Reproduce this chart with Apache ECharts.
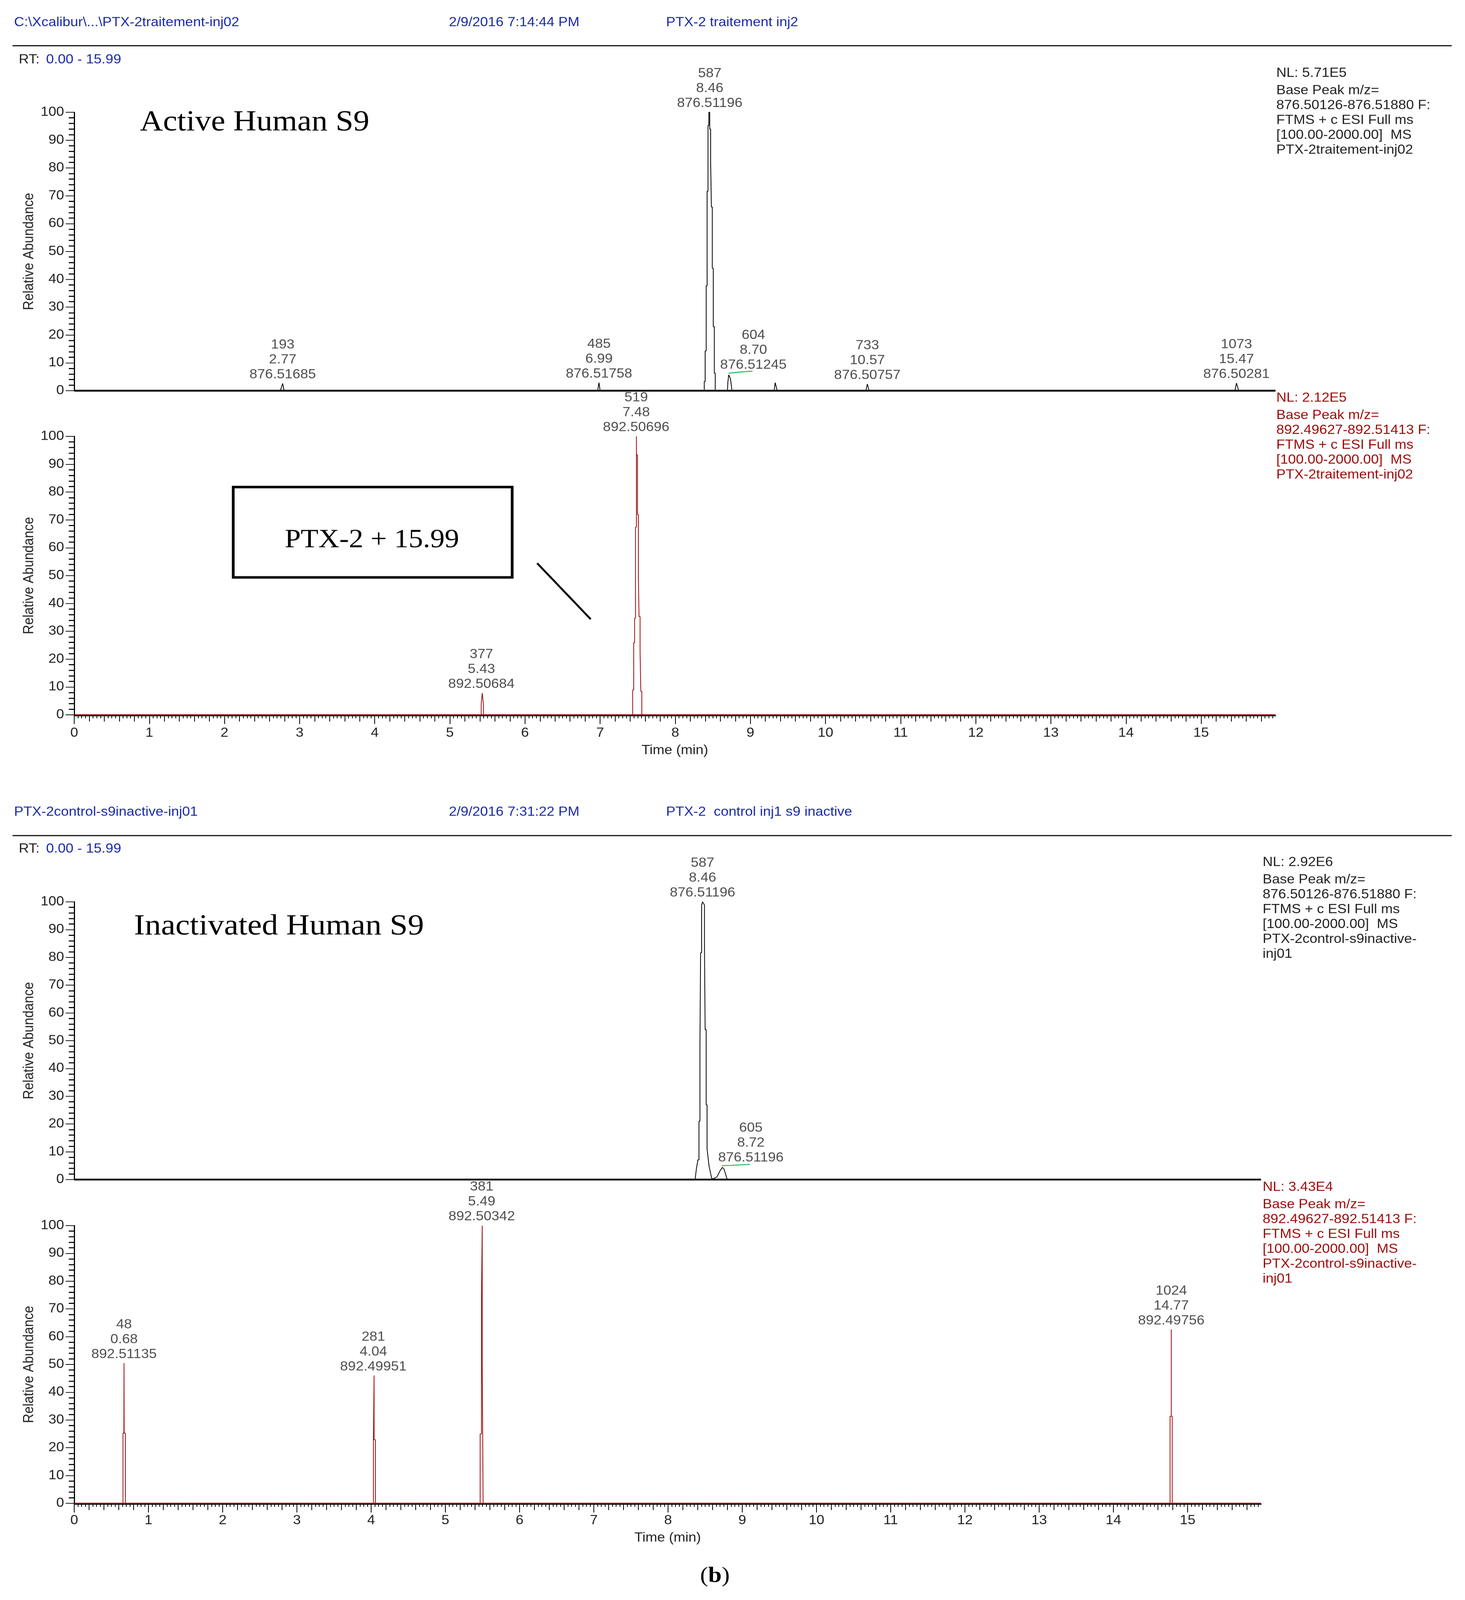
<!DOCTYPE html>
<html>
<head>
<meta charset="utf-8">
<style>html,body{margin:0;padding:0;background:#fff;overflow:hidden}#chart{width:3750px;height:4517px;transform-origin:0 0}</style>
<script src="https://cdn.jsdelivr.net/npm/echarts@6/dist/echarts.min.js"></script>
</head>
<body>
<div id="chart"></div>
<script>
// values
const timeRange = [0, 15.99];
const timeTicks = [0, 1, 2, 3, 4, 5, 6, 7, 8, 9, 10, 11, 12, 13, 14, 15];

// active S9, m/z 876.5
const activeTimes876 = [0, 2.743, 2.775, 2.793, 6.967, 6.985, 7.0, 8.386, 8.386, 8.398, 8.398, 8.412, 8.412, 8.424, 8.424, 8.436, 8.436, 8.447, 8.447, 8.459, 8.459, 8.471, 8.471, 8.481, 8.481, 8.493, 8.493, 8.506, 8.506, 8.52, 8.52, 8.532, 8.532, 8.695, 8.7, 8.712, 8.735, 8.755, 9.316, 9.33, 9.357, 10.537, 10.557, 10.58, 15.45, 15.47, 15.5, 15.99];
const activeValues876 = [0, 0, 2.6, 0, 0, 2.9, 0, 0, 3.3, 3.3, 14.3, 14.3, 37.7, 37.7, 71.7, 71.7, 95.3, 95.3, 100, 100, 94, 94, 82.3, 82.3, 66, 66, 44, 44, 23, 23, 6.3, 6.3, 0, 0, 3, 5.7, 4.3, 0, 0, 2.9, 0, 0, 2.4, 0, 0, 2.75, 0, 0];
const activeScans876 = ['193', '485', '587', '604', '733', '1073'];
const activeRts876 = ['2.77', '6.99', '8.46', '8.70', '10.57', '15.47'];
const activeMzs876 = ['876.51685', '876.51758', '876.51196', '876.51245', '876.50757', '876.50281'];
const activeLabelTimes876 = [2.775, 6.985, 8.459, 9.04, 10.557, 15.47];
const activeLabelValues876 = [2.6, 2.9, 100, 6, 2.4, 2.75];
const activeLeaderTimes876 = [8.71, 8.79, 8.87, 8.96, 9.03];
const activeLeaderValues876 = [6.3, 6.5, 6.7, 6.9, 7];

// active S9, m/z 892.5
const activeTimes892 = [0, 5.417, 5.417, 5.431, 5.447, 5.447, 7.433, 7.433, 7.447, 7.447, 7.459, 7.459, 7.471, 7.471, 7.483, 7.483, 7.483, 7.497, 7.497, 7.509, 7.509, 7.518, 7.518, 7.532, 7.532, 7.542, 7.542, 7.555, 7.555, 15.99];
const activeValues892 = [0, 0, 3.9, 7.8, 3.6, 0, 0, 8.9, 8.9, 25.9, 25.9, 34.7, 34.7, 67.4, 67.4, 100, 93.4, 93.4, 71.9, 71.9, 49.4, 49.4, 35.3, 35.3, 22.6, 22.6, 8.4, 8.4, 0, 0];
const activeScans892 = ['377', '519'];
const activeRts892 = ['5.43', '7.48'];
const activeMzs892 = ['892.50684', '892.50696'];
const activeLabelTimes892 = [5.42, 7.48];
const activeLabelValues892 = [7.8, 100];

// inactivated S9, m/z 876.5
const inactiveTimes876 = [0, 8.365, 8.382, 8.403, 8.417, 8.417, 8.43, 8.43, 8.439, 8.439, 8.453, 8.453, 8.465, 8.477, 8.491, 8.491, 8.5, 8.5, 8.514, 8.514, 8.526, 8.526, 8.535, 8.553, 8.588, 8.605, 8.623, 8.658, 8.702, 8.733, 8.754, 8.798, 15.99];
const inactiveValues876 = [0, 0, 3.8, 7.1, 7.1, 21, 21, 48.4, 48.4, 81.7, 81.7, 98.8, 100, 99.5, 98.8, 84.4, 84.4, 54, 54, 26.9, 26.9, 11.1, 11.1, 4.8, 0.5, 0.2, 0.5, 0.9, 3.2, 4.4, 3.8, 0, 0];
const inactiveScans876 = ['587', '605'];
const inactiveRts876 = ['8.46', '8.72'];
const inactiveMzs876 = ['876.51196', '876.51196'];
const inactiveLabelTimes876 = [8.465, 9.116];
const inactiveLabelValues876 = [100, 4.7];
const inactiveLeaderTimes876 = [8.726, 8.85, 8.98, 9.105];
const inactiveLeaderValues876 = [5, 5.1, 5.3, 5.5];

// inactivated S9, m/z 892.5
const inactiveTimes892 = [0, 0.657, 0.657, 0.669, 0.671, 0.673, 0.689, 0.689, 4.031, 4.031, 4.04, 4.04, 4.04, 4.058, 4.058, 5.469, 5.469, 5.487, 5.487, 5.497, 5.497, 5.497, 5.503, 5.503, 5.509, 5.509, 14.764, 14.764, 14.78, 14.78, 14.78, 14.793, 14.793, 15.99];
const inactiveValues892 = [0, 0, 25.3, 25.3, 50.5, 25.3, 25.3, 0, 0, 22.9, 22.9, 46, 22.9, 22.9, 0, 0, 25, 25, 75, 75, 100, 50, 50, 25, 25, 0, 0, 31.3, 31.3, 62.6, 31.3, 31.3, 0, 0];
const inactiveScans892 = ['48', '281', '381', '1024'];
const inactiveRts892 = ['0.68', '4.04', '5.49', '14.77'];
const inactiveMzs892 = ['892.51135', '892.49951', '892.50342', '892.49756'];
const inactiveLabelTimes892 = [0.671, 4.03, 5.49, 14.78];
const inactiveLabelValues892 = [50.5, 46, 100, 62.6];

const BLACK = '#000';
const RED = '#9e0b0b';
const GREEN = '#14b14a';
const BLUE = '#1a2aa8';
const TEXT = '#222';
const SANS = '"Liberation Sans", Arial, sans-serif';
const SERIF = '"Liberation Serif", serif';

const zip = function (a, b) {
    return a.map((v, i) => [v, b[i]]);
};

// medium and minor ticks are only a ruling, no data in them
const stepped = function (count, step) {
    let out = [];
    for (let i = 0; i < count; i++) {
        let v = Math.round(i * step * 100) / 100;
        if (v <= timeRange[1]) out.push(v);
    }
    return out;
};
const mediumTicks = stepped(80, 0.2);
const minorTicks = stepped(320, 0.05);

const panels = [
    {left: 190, top: 317, width: 3075, height: 786, color: BLACK, ruled: false,
        times: activeTimes876, values: activeValues876, scans: activeScans876, rts: activeRts876, mzs: activeMzs876,
        labelTimes: activeLabelTimes876, labelValues: activeLabelValues876,
        leaderTimes: activeLeaderTimes876, leaderValues: activeLeaderValues876},
    {left: 190, top: 1232, width: 3075, height: 786, color: RED, ruled: true, nameGap: 81, labelMargin: 32,
        times: activeTimes892, values: activeValues892, scans: activeScans892, rts: activeRts892, mzs: activeMzs892,
        labelTimes: activeLabelTimes892, labelValues: activeLabelValues892},
    {left: 190, top: 2546, width: 3038, height: 784, color: BLACK, ruled: false,
        times: inactiveTimes876, values: inactiveValues876, scans: inactiveScans876, rts: inactiveRts876, mzs: inactiveMzs876,
        labelTimes: inactiveLabelTimes876, labelValues: inactiveLabelValues876,
        leaderTimes: inactiveLeaderTimes876, leaderValues: inactiveLeaderValues876},
    {left: 190, top: 3460, width: 3038, height: 784, color: RED, ruled: true, nameGap: 78, labelMargin: 29,
        times: inactiveTimes892, values: inactiveValues892, scans: inactiveScans892, rts: inactiveRts892, mzs: inactiveMzs892,
        labelTimes: inactiveLabelTimes892, labelValues: inactiveLabelValues892}
];

let grid = [];
let xAxis = [];
let yAxis = [];
let series = [];

const tickAxis = function (gridIndex, values, length, extra) {
    return Object.assign({
        type: 'value', gridIndex, position: 'bottom', offset: 2,
        min: timeRange[0], max: timeRange[1], splitLine: {show: false},
        axisLine: {show: false, onZero: false},
        axisLabel: {show: false},
        axisTick: {show: true, customValues: values, length, lineStyle: {color: BLACK, width: 2}}
    }, extra || {});
};

panels.forEach(function (p, i) {
    grid.push({left: p.left, top: p.top, width: p.width, height: p.height, containLabel: false});
    const axisIndex = xAxis.length;
    if (p.ruled) {
        xAxis.push(tickAxis(i, timeTicks, 24, {
            axisLine: {show: true, onZero: false, lineStyle: {color: BLACK, width: 3}},
            axisLabel: {show: true, customValues: timeTicks, margin: p.labelMargin, color: TEXT, fontFamily: SANS, fontSize: 36},
            name: 'Time (min)', nameLocation: 'middle', nameGap: p.nameGap,
            nameTextStyle: {color: TEXT, fontFamily: SANS, fontSize: 36}
        }));
        xAxis.push(tickAxis(i, mediumTicks, 17));
        xAxis.push(tickAxis(i, minorTicks, 8));
    } else {
        xAxis.push({
            type: 'value', gridIndex: i, position: 'bottom',
            min: timeRange[0], max: timeRange[1], splitLine: {show: false},
            axisLine: {show: false, onZero: false}, axisTick: {show: false}, axisLabel: {show: false}
        });
    }
    yAxis.push({
        type: 'value', gridIndex: i, position: 'left', min: 0, max: 100, interval: 10,
        splitLine: {show: false},
        axisLine: {show: true, onZero: false, lineStyle: {color: BLACK, width: 3}},
        axisTick: {show: true, length: 22, lineStyle: {color: BLACK, width: 2}},
        minorTick: {show: true, splitNumber: 5, length: 14, lineStyle: {color: BLACK, width: 3}},
        axisLabel: {margin: 26, color: TEXT, fontFamily: SANS, fontSize: 36},
        name: 'Relative Abundance', nameLocation: 'middle', nameRotate: 90, nameGap: 95,
        nameTextStyle: {color: TEXT, fontFamily: SANS, fontSize: 37}
    });

    // thick baseline under the peaks
    series.push({
        type: 'line', xAxisIndex: axisIndex, yAxisIndex: i, showSymbol: false, clip: false, silent: true, animation: false,
        data: timeRange.map(t => [t, 0]),
        lineStyle: {color: p.color, width: p.ruled ? 3 : 5}
    });
    series.push({
        type: 'line', xAxisIndex: axisIndex, yAxisIndex: i, showSymbol: false, clip: false, silent: true, animation: false,
        data: zip(p.times, p.values),
        lineStyle: {color: p.color, width: 2, join: 'bevel'}
    });
    if (p.leaderTimes) {
        series.push({
            type: 'line', xAxisIndex: axisIndex, yAxisIndex: i, showSymbol: false, silent: true, animation: false,
            data: zip(p.leaderTimes, p.leaderValues),
            lineStyle: {color: GREEN, width: 2.5}
        });
    }
    series.push({
        type: 'scatter', xAxisIndex: axisIndex, yAxisIndex: i, symbolSize: 1, silent: true, animation: false,
        itemStyle: {color: 'transparent'},
        data: zip(p.labelTimes, p.labelValues),
        label: {
            show: true, position: 'top', distance: 3, align: 'center',
            color: TEXT, fontFamily: SANS, fontSize: 36, lineHeight: 42,
            formatter: (params) => p.scans[params.dataIndex] + '\n' + p.rts[params.dataIndex] + '\n' + p.mzs[params.dataIndex]
        }
    });
});

// headers, side notes, annotations
const textItem = function (x, y, text, fill, size, family, align) {
    return {
        type: 'text', x, y, silent: true,
        style: {text, fill, font: (size || 36) + 'px ' + (family || SANS), textAlign: align || 'left', textVerticalAlign: 'middle'}
    };
};
const ruleItem = function (y) {
    return {type: 'line', silent: true, shape: {x1: 32, y1: y, x2: 3716, y2: y}, style: {stroke: BLACK, lineWidth: 3}};
};
const noteItems = function (x, y, lines, fill) {
    return lines.map((line, i) => textItem(x, i === 0 ? y : y + 7 + i * 42, line, fill));
};

const graphic = [
    textItem(36, 64, 'C:\\Xcalibur\\...\\PTX-2traitement-inj02', BLUE),
    textItem(1149, 64, '2/9/2016 7:14:44 PM', BLUE),
    textItem(1705, 64, 'PTX-2 traitement inj2', BLUE),
    ruleItem(129),
    textItem(48, 169, 'RT:', TEXT),
    textItem(118, 169, '0.00 - 15.99', BLUE),
    textItem(36, 2293, 'PTX-2control-s9inactive-inj01', BLUE),
    textItem(1149, 2293, '2/9/2016 7:31:22 PM', BLUE),
    textItem(1705, 2293, 'PTX-2  control inj1 s9 inactive', BLUE),
    ruleItem(2359),
    textItem(48, 2397, 'RT:', TEXT),
    textItem(118, 2397, '0.00 - 15.99', BLUE),
    textItem(358, 346, 'Active Human S9', BLACK, 82, SERIF),
    textItem(343, 2616, 'Inactivated Human S9', BLACK, 83, SERIF),
    {type: 'rect', silent: true, shape: {x: 597, y: 1375, width: 714, height: 255}, style: {fill: '#fff', stroke: BLACK, lineWidth: 7}},
    textItem(952, 1526, 'PTX-2 + 15.99', BLACK, 74, SERIF, 'center'),
    {type: 'line', silent: true, shape: {x1: 1375, y1: 1590, x2: 1512, y2: 1748}, style: {stroke: BLACK, lineWidth: 5}},
    {
        type: 'text', x: 1830, y: 4450, silent: true,
        style: {
            text: '({b|b})', fill: BLACK, font: '62px ' + SERIF, textAlign: 'center', textVerticalAlign: 'middle',
            rich: {b: {fontWeight: 'bold', fontFamily: SERIF, fontSize: 62, fill: BLACK}}
        }
    }
].concat(
    noteItems(3267, 207, ['NL: 5.71E5', 'Base Peak m/z=', '876.50126-876.51880 F:', 'FTMS + c ESI Full ms', '[100.00-2000.00]  MS', 'PTX-2traitement-inj02'], TEXT),
    noteItems(3267, 1124, ['NL: 2.12E5', 'Base Peak m/z=', '892.49627-892.51413 F:', 'FTMS + c ESI Full ms', '[100.00-2000.00]  MS', 'PTX-2traitement-inj02'], RED),
    noteItems(3232, 2435, ['NL: 2.92E6', 'Base Peak m/z=', '876.50126-876.51880 F:', 'FTMS + c ESI Full ms', '[100.00-2000.00]  MS', 'PTX-2control-s9inactive-', 'inj01'], TEXT),
    noteItems(3232, 3352, ['NL: 3.43E4', 'Base Peak m/z=', '892.49627-892.51413 F:', 'FTMS + c ESI Full ms', '[100.00-2000.00]  MS', 'PTX-2control-s9inactive-', 'inj01'], RED)
);

const holder = document.getElementById('chart');
// the window can come out shorter than the figure, squeeze it in so nothing gets cut
const fitY = Math.min(1, window.innerHeight / 4517);
holder.style.transform = 'scaleY(' + fitY + ')';

const chart = echarts.init(holder);
chart.setOption({
    backgroundColor: '#fff',
    animation: false,
    grid,
    xAxis,
    yAxis,
    series,
    graphic
});
</script>
</body>
</html>
